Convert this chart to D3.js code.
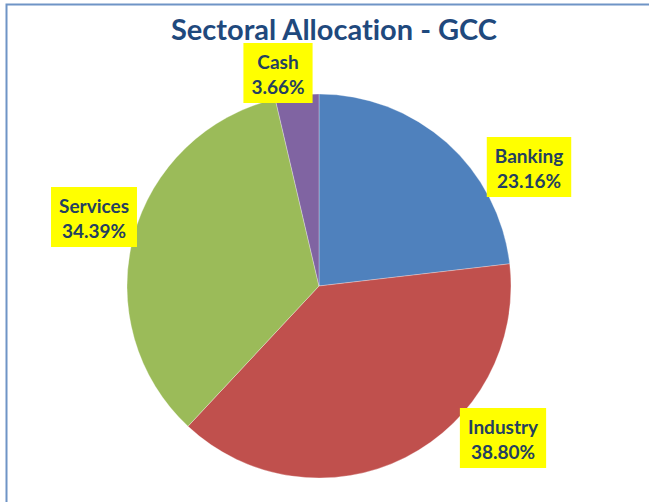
<!DOCTYPE html>
<html>
<head>
<meta charset="utf-8">
<script src="https://cdn.jsdelivr.net/npm/d3@7"></script>
<style>
  body { margin: 0; background: #fff; }
  svg { display: block; font-family: Lato, "Open Sans", sans-serif; font-variant-ligatures: none; }
</style>
</head>
<body>
<svg id="chart"></svg>
<script>
// Chart data
const sectors = ["Banking", "Industry", "Services", "Cash"];
const shares = [23.16, 38.80, 34.39, 3.66];
const sectorColors = ["#4F81BD", "#C0504D", "#9BBB59", "#8064A2"];

// Label box centres (layout only)
const labelPos = {
    Banking: [529, 167],
    Industry: [503, 438],
    Services: [94, 217],
    Cash: [278, 73]
};

const width = 649, height = 502;
const cx = 319, cy = 286, radius = 192;

const svg = d3.select("#chart")
    .attr("width", width)
    .attr("height", height);

// outer frame (only top/left visible in the crop)
svg.append("rect")
    .attr("x", 6.5)
    .attr("y", 4.5)
    .attr("width", width + 20)
    .attr("height", height + 20)
    .attr("fill", "none")
    .attr("stroke", "#6F94C6")
    .attr("stroke-width", 2);

svg.append("text")
    .attr("x", 334)
    .attr("y", 40)
    .attr("text-anchor", "middle")
    .attr("font-size", 29)
    .attr("font-weight", "bold")
    .attr("fill", "#1F497D")
    .text("Sectoral Allocation - GCC");

const data = sectors.map((s, i) => ({ name: s, value: shares[i], color: sectorColors[i] }));

const pie = d3.pie()
    .value(d => d.value)
    .sort(null);

const arc = d3.arc()
    .innerRadius(0)
    .outerRadius(radius);

const g = svg.append("g")
    .attr("transform", `translate(${cx},${cy})`);

g.selectAll("path")
    .data(pie(data))
    .join("path")
    .attr("d", arc)
    .attr("fill", d => d.data.color)
    .attr("stroke", "#ffffff")
    .attr("stroke-opacity", 0.5)
    .attr("stroke-width", 0.6);

// data labels
const labels = svg.selectAll("g.lbl")
    .data(data)
    .join("g")
    .attr("class", "lbl")
    .attr("transform", d => `translate(${labelPos[d.name][0]},${labelPos[d.name][1]})`);

labels.each(function (d) {
    const lg = d3.select(this);
    const rect = lg.append("rect").attr("fill", "#FFFF00");
    const t1 = lg.append("text")
        .attr("text-anchor", "middle")
        .attr("y", -4)
        .attr("font-size", 19)
        .attr("font-weight", "bold")
        .attr("fill", "#243F60")
        .text(d.name);
    const t2 = lg.append("text")
        .attr("text-anchor", "middle")
        .attr("y", 21)
        .attr("font-size", 19)
        .attr("font-weight", "bold")
        .attr("fill", "#243F60")
        .text(d.value.toFixed(2) + "%");
    const w = Math.max(t1.node().getComputedTextLength(), t2.node().getComputedTextLength()) + 16;
    rect.attr("x", -w / 2)
        .attr("y", -30)
        .attr("width", w)
        .attr("height", 60);
});
</script>
</body>
</html>
